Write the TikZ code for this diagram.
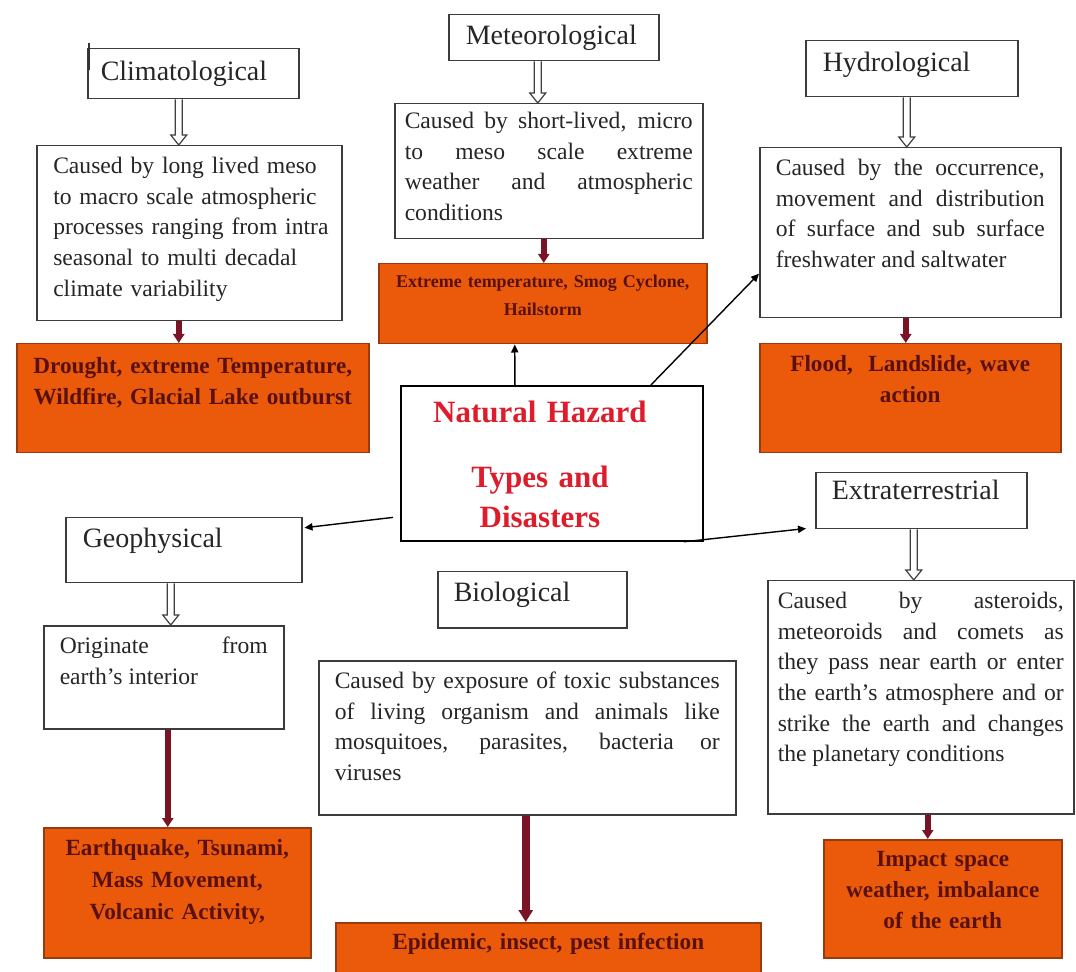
\documentclass[tikz,border=0pt]{standalone}
\usepackage{fontspec}
\setmainfont{Liberation Serif}
\usetikzlibrary{calc,arrows.meta}
\hyphenpenalty=10000
\exhyphenpenalty=10000

\definecolor{hazardorange}{HTML}{EB5A0A}
\definecolor{hazardedge}{HTML}{9A3A10}
\definecolor{hazardtext}{HTML}{581010}
\definecolor{hazardred}{HTML}{DD1C2C}
\definecolor{arrowred}{HTML}{7A1424}
\definecolor{boxedge}{HTML}{3C3C3C}

\tikzset{
	title/.style={draw=boxedge, line width=0.75pt, fill=white, anchor=north west, align=left,
		inner ysep=2pt, inner xsep=8pt, text=black!85, font=\fontsize{14}{17}\selectfont},
	desc/.style={draw=boxedge, line width=0.75pt, fill=white, anchor=north west, align=justify,
		inner ysep=4pt, inner xsep=8pt, text height=10pt, text=black!85, font=\fontsize{11.8}{15.3}\selectfont},
	outcome/.style={draw=hazardedge, line width=0.75pt, fill=hazardorange, anchor=north west, align=center,
		inner ysep=4pt, inner xsep=6pt, text=hazardtext, font=\bfseries\fontsize{11.6}{15.5}\selectfont},
	hollow/.style={draw=black!75, line width=0.6pt, fill=white},
	redarrow/.style={draw=arrowred, line width=3pt, -{Triangle[length=4.5pt,width=5.5pt]}},
	thinarrow/.style={draw=black, line width=0.7pt, -{Triangle[length=4pt,width=3.6pt]}},
}

% open block arrow, pointing down from #1 to #2
\newcommand{\hollowarrow}[2]{%
	\path[hollow] let \p1=(#1), \p2=(#2) in
	(\x1-1.75pt,\y1) -- (\x1-1.75pt,\y2+5pt) -- (\x1-4pt,\y2+5pt) -- (\x1,\y2)
	-- (\x1+4pt,\y2+5pt) -- (\x1+1.75pt,\y2+5pt) -- (\x1+1.75pt,\y1);}

\begin{document}
\begin{tikzpicture}[x=0.5pt,y=-0.5pt]
	\useasboundingbox (0,0) rectangle (1076,972);
	\clip (0,0) rectangle (1076,972);

	% hazard types
	\node[title, minimum width=105.5pt, minimum height=25pt, text width=92.5pt, inner xsep=6.5pt] (clim) at (87,48) {Climatological};
	\node[title, minimum width=105pt, minimum height=23pt, text width=88pt, inner xsep=8.5pt] (met) at (448,14) {Meteorological};
	\node[title, minimum width=106pt, minimum height=28pt, text width=89pt, inner xsep=8.5pt, text depth=7pt] (hydro) at (805,40) {Hydrological};
	\node[title, minimum width=118pt, minimum height=32.5pt, text width=101pt, inner xsep=8.5pt, text depth=12pt] (geo) at (65,517) {Geophysical};
	\node[title, minimum width=94.5pt, minimum height=28pt, text width=78.5pt, text depth=8pt] (bio) at (437,571) {Biological};
	\node[title, minimum width=105.5pt, minimum height=28pt, text width=89.5pt, text depth=11pt] (extra) at (815,472) {Extraterrestrial};
	\draw[line width=1pt, black!80] (89,43) -- (89,70);

	% causes
	\node[desc, align=left, minimum width=152.5pt, text width=142pt, inner xsep=5pt, text depth=69.5pt] (climdesc) at (36,145)
	{\hspace*{3pt}Caused by long lived meso\\\hspace*{3pt}to macro scale atmospheric\\\hspace*{3pt}processes ranging from intra\\\hspace*{3pt}seasonal to multi decadal\\\hspace*{3pt}climate variability};
	\node[desc, minimum width=154pt, text width=144pt, inner xsep=5pt, text height=8.5pt, text depth=51pt] (metdesc) at (394,103)
	{Caused by short-lived, micro\linebreak to meso scale extreme\linebreak weather and atmospheric\linebreak conditions};
	\node[desc, minimum width=150.5pt, text width=134.5pt, text depth=67pt] (hydrodesc) at (759,147)
	{Caused by the occurrence,\linebreak movement and distribution\linebreak of surface and sub surface\linebreak freshwater and saltwater};
	\node[desc, minimum width=120pt, text width=104pt, text depth=33.5pt] (geodesc) at (43,625)
	{Originate from\linebreak earth's interior};
	\node[desc, minimum width=208.5pt, text width=192.5pt, text depth=59pt] (biodesc) at (318,660)
	{Caused by exposure of toxic substances\linebreak of living organism and animals like\linebreak mosquitoes, parasites, bacteria or\linebreak viruses};
	\node[desc, minimum width=153pt, text width=143pt, inner xsep=5pt, text depth=98.5pt] (extradesc) at (767,580)
	{Caused by asteroids,\linebreak meteoroids and comets as\linebreak they pass near earth or enter\linebreak the earth's atmosphere and or\linebreak strike the earth and changes\linebreak the planetary conditions};

	% disasters
	\node[outcome, minimum width=176pt, text width=164pt, text height=11pt, text depth=35.5pt] (climout) at (16,343)
	{Drought, extreme Temperature,\\Wildfire, Glacial Lake outburst};
	\node[outcome, minimum width=164pt, text width=152pt, text height=8pt, text depth=24pt,
		font=\bfseries\fontsize{9}{14}\selectfont] (metout) at (378,263)
	{Extreme temperature, Smog Cyclone,\\Hailstorm};
	\node[outcome, minimum width=150.5pt, text width=138.5pt, text height=10pt, text depth=36.5pt] (hydroout) at (759,343)
	{Flood,~ Landslide, wave\\action};
	\node[outcome, minimum width=133.5pt, text width=121.5pt, text height=10pt, text depth=47pt,
		font=\bfseries\fontsize{11.6}{16}\selectfont] (geoout) at (43,827)
	{Earthquake, Tsunami,\\Mass Movement,\\Volcanic Activity,};
	\node[outcome, minimum width=212.5pt, text width=200.5pt, text height=9.5pt, text depth=14.5pt] (bioout) at (335,922)
	{Epidemic, insect, pest infection};
	\node[outcome, minimum width=119pt, text width=107pt, text height=9.5pt, text depth=41.5pt] (extraout) at (823,839)
	{Impact space\\weather, imbalance\\of the earth};

	% centre
	\node[draw=black, line width=0.9pt, fill=white, anchor=north west, align=center, text=hazardred,
		minimum width=151pt, text width=139pt, inner xsep=6pt, inner ysep=4pt, text height=14.5pt, text depth=55pt,
		font=\bfseries\fontsize{15.5}{20}\selectfont] (central) at (400,385)
	{Natural Hazard\hspace*{12pt}\null\\[12.5pt]Types and\hspace*{12pt}\null\\Disasters\hspace*{12pt}\null};

	\hollowarrow{$(clim.south)+(-14.5,0)$}{$(climdesc.north)+(-10.5,0)$}
	\hollowarrow{$(met.south)+(-16,0)$}{$(metdesc.north)+(-11,0)$}
	\hollowarrow{$(hydro.south)+(-5,0)$}{$(hydrodesc.north)+(-3.5,0)$}
	\hollowarrow{$(geo.south)+(-13,0)$}{$(geodesc.north)+(7,0)$}
	\hollowarrow{$(extra.south)+(-7.5,0)$}{$(extradesc.north)+(-7,0)$}

	\draw[redarrow] ($(climdesc.south)+(-10.5,0)$) -- ($(climout.north)+(-14,0)$);
	\draw[redarrow] ($(metdesc.south)+(-5,0)$) -- ($(metout.north)+(1,0)$);
	\draw[redarrow] ($(hydrodesc.south)+(-4.5,0)$) -- ($(hydroout.north)+(-4.5,0)$);
	\draw[redarrow] ($(geodesc.south)+(4,0)$) -- ($(geoout.north)+(-9.5,0)$);
	\draw[redarrow, line width=4pt, -{Triangle[length=6pt,width=7pt]}] ($(biodesc.south)+(-1.5,0)$) -- ($(bioout.north)+(-22.5,0)$);
	\draw[redarrow] ($(extradesc.south)+(7,0)$) -- ($(extraout.north)+(-15,0)$);

	\draw[thinarrow] ($(central.north)+(-37,0)$) -- ($(metout.south)+(-28,0)$);
	\draw[thinarrow] ($(central.north)+(99,0)$) -- ($(hydrodesc.west)+(0,41)$);
	\draw[thinarrow] ($(central.west)+(-7,54)$) -- ($(geo.east)+(2,-22.5)$);
	\draw[thinarrow] ($(central.south)+(132,0)$) -- ($(extra.south west)+(-9,-1)$);
\end{tikzpicture}
\end{document}
